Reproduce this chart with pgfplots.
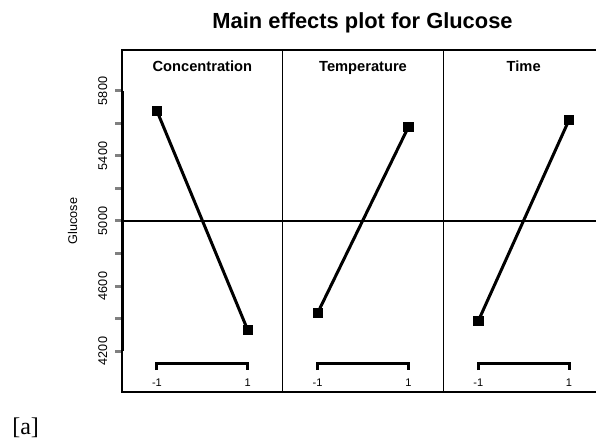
\documentclass[border=0pt]{standalone}
\usepackage{pgfplots}
\pgfplotsset{compat=1.18}
\usepackage{fontspec}
\setmainfont{Liberation Sans}
\newfontfamily\seriffont{Liberation Serif}

\pgfplotsset{panel/.style={
  scale only axis, width=120.5pt, height=256.5pt,
  xmin=-1.77, xmax=1.77, ymin=3948, ymax=6052,
  xtick=\empty, ytick=\empty,
  axis line style={line width=0.9pt},
  clip=false, anchor=south west,
}}
\tikzset{
effect/.style={black, line width=2.25pt, mark=square*, mark size=3.5pt, mark options={solid, line width=0.5pt}},
bracket/.style={black, line width=2.25pt},
refline/.style={black, line width=0.9pt},
strip/.style={anchor=base, font=\bfseries\fontsize{11}{11}\selectfont},
lev/.style={font=\fontsize{8.3}{8.3}\selectfont},
}

\begin{document}
\begin{tikzpicture}
\path[use as bounding box] (0,0) rectangle (447pt,331.5pt);
\clip (0,0) rectangle (447pt,331.5pt);

% title
\node[anchor=base, font=\fontsize{16.4}{18}\selectfont\bfseries] at (271.9pt,309.75pt) {Main effects plot for Glucose};
% panel tag
\node[anchor=base west, inner sep=0pt, font=\seriffont\fontsize{18}{20}\selectfont] at (9pt,5.25pt) {[a]};

% Panel 1: Concentration
\begin{axis}[panel, at={(91.5pt,37.5pt)},
  ytick={4200,4400,4600,4800,5000,5200,5400,5600,5800},
  yticklabels={4200,,4600,,5000,,5400,,5800},
  ytick pos=left, tick align=outside, major tick length=5pt,
  ytick style={line width=2.25pt},
  yticklabel style={rotate=90, anchor=south, yshift=2.5pt, font=\fontsize{9.5}{9.5}\selectfont},
]
\addplot[refline, no marks] coordinates {(-1.77,5000) (1.77,5000)};
\addplot[line width=2.25pt, black, no marks] coordinates {(-1.77,4200) (-1.77,5800)};
\addplot[bracket, no marks] coordinates {(-1,4083) (-1,4126) (1,4126) (1,4083)};
\addplot[effect] coordinates {(-1,5677) (1,4329)};
\node[strip] at (axis cs:0,5917) {Concentration};
\node[lev] at (axis cs:-1,4003) {-1};
\node[lev] at (axis cs:1,4003) {1};
\node[rotate=90, font=\fontsize{9.5}{9.5}\selectfont] at ([xshift=-37pt]axis cs:-1.77,5000) {Glucose};
\end{axis}

% Panel 2: Temperature
\begin{axis}[panel, at={(212pt,37.5pt)}]
\addplot[refline, no marks] coordinates {(-1.77,5000) (1.77,5000)};
\addplot[bracket, no marks] coordinates {(-1,4083) (-1,4126) (1,4126) (1,4083)};
\addplot[effect] coordinates {(-1,4434) (1,5578)};
\node[strip] at (axis cs:0,5917) {Temperature};
\node[lev] at (axis cs:-1,4003) {-1};
\node[lev] at (axis cs:1,4003) {1};
\end{axis}

% Panel 3: Time
\begin{axis}[panel, at={(332.5pt,37.5pt)}]
\addplot[refline, no marks] coordinates {(-1.77,5000) (1.77,5000)};
\addplot[bracket, no marks] coordinates {(-1,4083) (-1,4126) (1,4126) (1,4083)};
\addplot[effect] coordinates {(-1,4385) (1,5622)};
\node[strip] at (axis cs:0,5917) {Time};
\node[lev] at (axis cs:-1,4003) {-1};
\node[lev] at (axis cs:1,4003) {1};
\end{axis}
\end{tikzpicture}
\end{document}
